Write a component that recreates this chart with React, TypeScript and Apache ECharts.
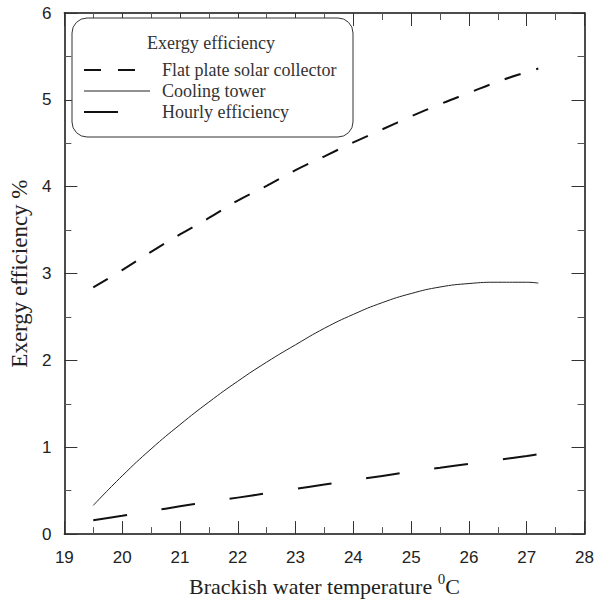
import React, { useEffect, useRef } from "react";
import * as echarts from "echarts";

const tempX = [19.5, 20, 20.5, 21, 21.5, 22, 22.5, 23, 23.5, 24, 24.5, 25, 25.5, 26, 26.5, 27, 27.2];
const flatPlate = [2.84, 3.04, 3.25, 3.45, 3.64, 3.84, 4.01, 4.19, 4.35, 4.51, 4.66, 4.81, 4.95, 5.08, 5.21, 5.32, 5.36];
const coolingTower = [0.33, 0.67, 0.98, 1.26, 1.52, 1.76, 1.98, 2.18, 2.37, 2.53, 2.665, 2.77, 2.845, 2.885, 2.9, 2.9, 2.89];
const hourly = [0.16, 0.21, 0.265, 0.32, 0.37, 0.42, 0.47, 0.52, 0.57, 0.62, 0.67, 0.72, 0.765, 0.81, 0.855, 0.9, 0.92];

const legendTitle = "Exergy efficiency";
const seriesNames = ["Flat plate solar collector", "Cooling tower", "Hourly efficiency"];

const SERIF = "'Liberation Serif', 'DejaVu Serif', serif";
const SANS = "'Liberation Sans', Arial, sans-serif";
const INK = "#222";

function pairs(xs: number[], ys: number[]) {
  return xs.map((x, i) => [x, ys[i]]);
}

function axisBase() {
  return {
    axisLine: { show: true, onZero: false, lineStyle: { color: "#111", width: 1.5 } },
    axisTick: { show: true, inside: true, length: 13, lineStyle: { color: "#333", width: 1 } },
    minorTick: { show: true, splitNumber: 2, length: 7, lineStyle: { color: "#555", width: 1 } },
    splitLine: { show: false },
    minorSplitLine: { show: false },
    axisLabel: { show: false },
  };
}

export default function App() {
  const ref = useRef<HTMLDivElement>(null);
  useEffect(() => {
    if (!ref.current) return;
    const chart = echarts.init(ref.current, undefined, { renderer: "svg" });
    const legendX = 84;
    const rows = [70, 91, 112];
    chart.setOption({
      animation: false,
      backgroundColor: "#fff",
      grid: { left: 62, right: 12, top: 13, bottom: 67, containLabel: false },
      xAxis: [
        {
          type: "value",
          min: 19,
          max: 28,
          interval: 1,
          position: "bottom",
          ...axisBase(),
          axisLabel: { show: true, fontSize: 17, fontFamily: SANS, color: INK, margin: 15 },
          name: "{a|Brackish water temperature }{s|0}{a|C}",
          nameLocation: "middle",
          nameGap: 33,
          nameTextStyle: {
            rich: {
              a: { fontSize: 22, fontFamily: SERIF, color: INK, lineHeight: 26, verticalAlign: "bottom" },
              s: { fontSize: 15, fontFamily: SERIF, color: INK, lineHeight: 26, verticalAlign: "top" },
            },
          },
        },
        {
          type: "value",
          min: 19,
          max: 28,
          interval: 1,
          position: "top",
          ...axisBase(),
        },
      ],
      yAxis: [
        {
          type: "value",
          min: 0,
          max: 6,
          interval: 1,
          position: "left",
          ...axisBase(),
          axisLabel: { show: true, fontSize: 17, fontFamily: SANS, color: INK, margin: 13 },
          name: "Exergy efficiency %",
          nameLocation: "middle",
          nameGap: 30,
          nameTextStyle: { fontSize: 23, fontFamily: SERIF, color: INK },
        },
        {
          type: "value",
          min: 0,
          max: 6,
          interval: 1,
          position: "right",
          ...axisBase(),
        },
      ],
      series: [
        {
          name: seriesNames[0],
          type: "line",
          data: pairs(tempX, flatPlate),
          smooth: 0.4,
          showSymbol: false,
          lineStyle: { color: "#111", width: 2, type: [17, 16] },
        },
        {
          name: seriesNames[1],
          type: "line",
          data: pairs(tempX, coolingTower),
          smooth: 0.5,
          showSymbol: false,
          lineStyle: { color: "#222", width: 1 },
        },
        {
          name: seriesNames[2],
          type: "line",
          data: pairs(tempX, hourly),
          smooth: 0.4,
          showSymbol: false,
          lineStyle: { color: "#111", width: 2, type: [34, 35] },
        },
      ],
      graphic: [
        {
          type: "rect",
          shape: { x: 72, y: 18, width: 281, height: 119, r: 15 },
          style: { fill: "#fff", stroke: "#333", lineWidth: 1 },
          z: 100,
        },
        {
          type: "text",
          x: 211,
          y: 43,
          z: 101,
          style: {
            text: legendTitle,
            fontSize: 18,
            fontFamily: SERIF,
            fill: "#333",
            align: "center",
            verticalAlign: "middle",
          },
        },
        {
          type: "line",
          z: 101,
          shape: { x1: legendX, y1: rows[0], x2: 135, y2: rows[0] },
          style: { stroke: "#111", lineWidth: 2, lineDash: [17, 17] },
        },
        {
          type: "line",
          z: 101,
          shape: { x1: legendX, y1: rows[1], x2: 150, y2: rows[1] },
          style: { stroke: "#222", lineWidth: 1 },
        },
        {
          type: "line",
          z: 101,
          shape: { x1: legendX, y1: rows[2], x2: 118, y2: rows[2] },
          style: { stroke: "#111", lineWidth: 2 },
        },
        ...seriesNames.map((n, i) => ({
          type: "text",
          x: 162,
          y: rows[i],
          z: 101,
          style: {
            text: n,
            fontSize: 18,
            fontFamily: SERIF,
            fill: "#333",
            align: "left",
            verticalAlign: "middle",
          },
        })),
      ],
    });
    return () => chart.dispose();
  }, []);
  return (
    <div
      ref={ref}
      style={{ position: "fixed", left: 0, top: 0, width: 597, height: 602, background: "#fff" }}
    />
  );
}
